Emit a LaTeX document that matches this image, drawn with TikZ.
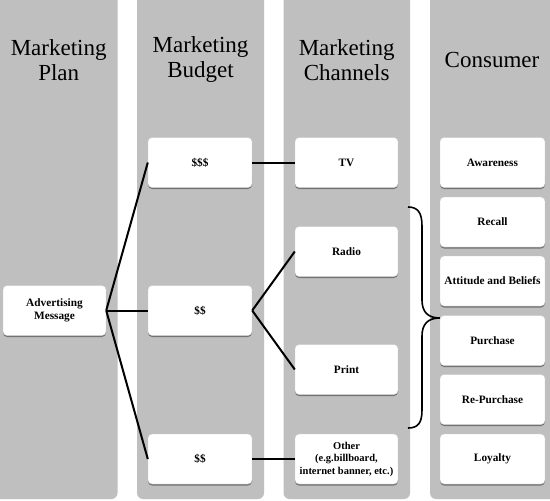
\documentclass[tikz,border=0pt]{standalone}
\usepackage{fontspec}
\setmainfont{Liberation Serif}
\usetikzlibrary{shadows}
\begin{document}
\begin{tikzpicture}[x=1pt,y=-1pt,
  colbg/.style={fill=black!25, draw=none, rounded corners=6pt},
  head/.style={font=\fontsize{23}{25}\selectfont, align=center, inner sep=0pt},
  box/.style={draw=black!20, line width=0.4pt, fill=white, rounded corners=4pt,
    minimum width=104pt, minimum height=50pt, align=center, inner sep=1pt,
    font=\fontsize{11.3}{13}\selectfont\bfseries,
    drop shadow={shadow xshift=0pt, shadow yshift=-1.5pt, opacity=0.4, fill=black}},
  conn/.style={draw=black, line width=2pt}]
\useasboundingbox (0,0) rectangle (550,501);
\fill[white] (0,0) rectangle (550,501);
% columns
\path[colbg] (-10,-10) rectangle (117.5,499);
\path[colbg] (137,-10) rectangle (264,499);
\path[colbg] (283.5,-10) rectangle (410,499);
\path[colbg] (430,-10) rectangle (560,499);
% headers
\node[head] (h1) at (58.7,60) {Marketing\\Plan};
\node[head] (h2) at (200.5,60) {Marketing\\Budget};
\node[head] (h3) at (346.7,60) {Marketing\\Channels};
\node[head] (h4) at (492,60) {Consumer};
% nodes
\node[box, minimum width=103pt] (adv) at (54.5,310.5) {Advertising\\Message};
\node[box] (b1) at (200,162.5) {\$\$\$};
\node[box] (b2) at (200,310.5) {\$\$};
\node[box] (b3) at (200,459) {\$\$};
\node[box, minimum width=103pt] (tv) at (346.5,162.5) {TV};
\node[box, minimum width=103pt] (radio) at (346.5,251.5) {Radio};
\node[box, minimum width=103pt] (print) at (346.5,369.5) {Print};
\node[box, minimum width=103pt, font=\fontsize{10.5}{12.5}\selectfont\bfseries] (other) at (346.5,459) {Other\\(e.g.billboard,\\internet banner, etc.)};
\node[box, minimum width=105pt] (aw) at (492.5,162.5) {Awareness};
\node[box, minimum width=105pt] (rc) at (492.5,222) {Recall};
\node[box, minimum width=105pt] (at) at (492.5,281) {Attitude and Beliefs};
\node[box, minimum width=105pt] (pu) at (492.5,340.5) {Purchase};
\node[box, minimum width=105pt] (rp) at (492.5,399.5) {Re-Purchase};
\node[box, minimum width=105pt] (lo) at (492.5,459) {Loyalty};
% connectors
\draw[conn] (adv.east) -- (b1.west);
\draw[conn] (adv.east) -- (b2.west);
\draw[conn] (adv.east) -- (b3.west);
\draw[conn] (b1.east) -- (tv.west);
\draw[conn] (b2.east) -- (radio.west);
\draw[conn] (b2.east) -- (print.west);
\draw[conn] (b3.east) -- (other.west);
% brace
\coordinate (bt) at (408,207);
\coordinate (bb) at (408,428);
\draw[black, line width=1.6pt]
  (bt) .. controls (418,207) and (422,213) .. (422,226)
  -- (422,300) .. controls (422,312) and (428,318) .. (pu.west |- 0,318)
  .. controls (428,318) and (422,324) .. (422,336)
  -- (422,410) .. controls (422,423) and (418,428) .. (bb);
\end{tikzpicture}
\end{document}
